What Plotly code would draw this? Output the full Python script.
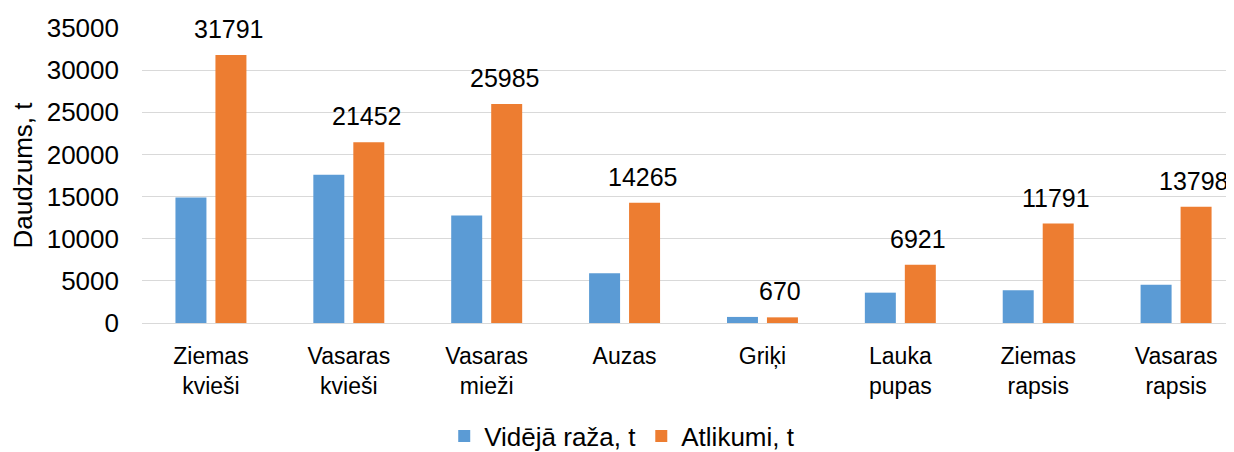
import plotly.graph_objects as go

categories = ["Ziemas<br>kvieši", "Vasaras<br>kvieši", "Vasaras<br>mieži", "Auzas",
              "Griķi", "Lauka<br>pupas", "Ziemas<br>rapsis", "Vasaras<br>rapsis"]
videja_raza = [14900, 17600, 12750, 5900, 720, 3600, 3880, 4550]
atlikumi = [31791, 21452, 25985, 14265, 670, 6921, 11791, 13798]
series_names = ["Vidējā raža, t", "Atlikumi, t"]
y_ticks = [0, 5000, 10000, 15000, 20000, 25000, 30000, 35000]
y_tick_text = [str(v) for v in y_ticks]

FONT = "Liberation Sans, Arial, sans-serif"

fig = go.Figure()
fig.add_trace(go.Bar(x=categories, y=videja_raza, name=series_names[0],
                     marker=dict(color="#5B9BD5", line=dict(width=0))))
fig.add_trace(go.Bar(x=categories, y=atlikumi, name=series_names[1],
                     marker=dict(color="#ED7D31", line=dict(width=0))))

for c, v in zip(categories, atlikumi):
    fig.add_annotation(x=c, y=v, text=str(v), xref="x", yref="y",
                       showarrow=False, xshift=18, yshift=10, yanchor="bottom",
                       font=dict(family=FONT, size=25, color="#000000"))

fig.update_layout(
    width=1226, height=444,
    margin=dict(l=134, r=0, t=20, b=129, autoexpand=False),
    paper_bgcolor="white", plot_bgcolor="white",
    font=dict(family=FONT, size=23, color="#000000"),
    barmode="group", bargap=0.42, bargroupgap=0.225,
    showlegend=True,
    legend=dict(orientation="h", xref="container", yref="container",
                x=0.501, xanchor="center", y=0.036, yanchor="middle",
                font=dict(family=FONT, size=26, color="#000000"),
                itemwidth=30, tracegroupgap=0),
    xaxis=dict(range=[-0.5, 7.42], showgrid=False, showline=False, ticks="",
               tickfont=dict(size=23), ticklabelstandoff=17, automargin=False),
    yaxis=dict(range=[0, 35000], tickvals=y_ticks, ticktext=y_tick_text,
               showgrid=True, gridcolor="#D9D9D9",
               gridwidth=1, zeroline=True, zerolinecolor="#D9D9D9", zerolinewidth=1,
               showline=False, ticks="", ticklabelstandoff=22, tickfont=dict(size=26),
               automargin=False,
               title=dict(text="Daudzums, t", font=dict(size=26), standoff=6)),
)

fig.write_html("out.html")
